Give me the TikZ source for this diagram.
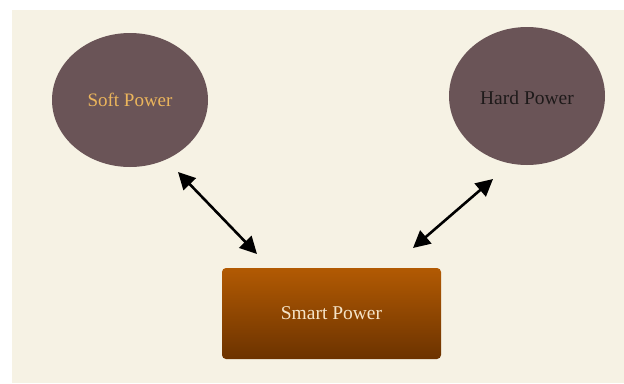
\documentclass[tikz,border=0pt]{standalone}
\usepackage{fontspec}
\setmainfont{Liberation Serif}
\usetikzlibrary{arrows.meta,shapes.geometric}
\definecolor{bgbeige}{HTML}{F6F2E4}
\definecolor{circfill}{HTML}{6A5457}
\definecolor{softtxt}{HTML}{EBB55C}
\definecolor{hardtxt}{HTML}{1E1A1A}
\definecolor{smarttxt}{HTML}{F5E4C8}
\definecolor{boxtop}{HTML}{B25A03}
\definecolor{boxbot}{HTML}{6C3300}
\tikzset{
  powercirc/.style={ellipse, fill=circfill, inner sep=0pt},
  linkarrow/.style={line width=2.6pt, black, {Triangle[length=17pt,width=17pt]}-{Triangle[length=17pt,width=17pt]}},
}
\begin{document}
\begin{tikzpicture}[x=1pt,y=-1pt]
\useasboundingbox (0,0) rectangle (624,383);
\fill[white] (0,0) rectangle (624,383);
\fill[bgbeige] (12,10) rectangle (624,383);
\node[powercirc, minimum width=156pt, minimum height=134pt] (soft) at (130,100) {};
\node[font=\fontsize{19}{22}\selectfont, text=softtxt] (softlbl) at (soft.center) {Soft Power};
\node[powercirc, minimum width=156pt, minimum height=138pt] (hard) at (527,96) {};
\node[font=\fontsize{19.5}{22}\selectfont, text=hardtxt] (hardlbl) at ([yshift=-2pt]hard.center) {Hard Power};
\shade[top color=boxtop, bottom color=boxbot, rounded corners=4pt] (222,268) rectangle (441,359);
\node[font=\fontsize{19.5}{23}\selectfont, text=smarttxt] (smart) at (331.5,313.5) {Smart Power};
\coordinate (a1) at (178,172);
\coordinate (a2) at (257,254);
\coordinate (b1) at (493,179);
\coordinate (b2) at (413,248);
\draw[linkarrow] (a1) -- (a2);
\draw[linkarrow] (b1) -- (b2);
\end{tikzpicture}
\end{document}
